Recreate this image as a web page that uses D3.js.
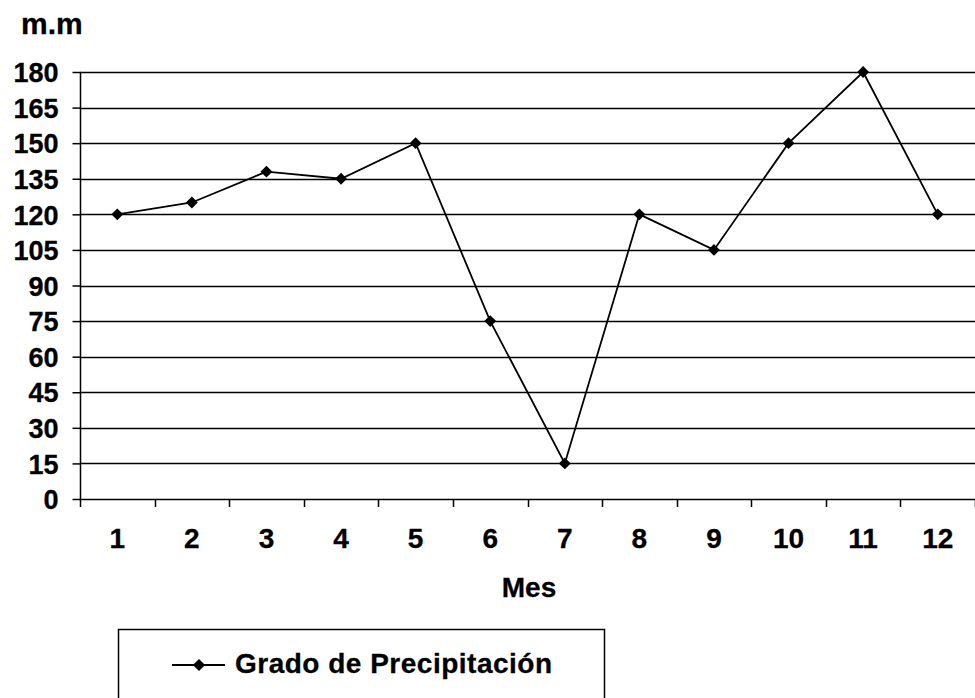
<!DOCTYPE html>
<html>
<head>
<meta charset="utf-8">
<script src="https://cdn.jsdelivr.net/npm/d3@7"></script>
<style>
  body { margin: 0; background: #fff; }
  text { font-family: "Liberation Sans", Arial, sans-serif; font-weight: bold; fill: #000; }
</style>
</head>
<body>
<div id="chart"></div>
<script>
var months = ["1","2","3","4","5","6","7","8","9","10","11","12"];
var rain = [120, 125, 138, 135, 150, 75, 15, 120, 105, 150, 180, 120];
var yTicks = [0,15,30,45,60,75,90,105,120,135,150,165,180];

var width = 975, height = 698;
var mLeft = 80, mRight = 975, mTop = 72, mBottom = 499;

var svg = d3.select("#chart").append("svg")
    .attr("width", width)
    .attr("height", height);

var x = d3.scaleBand().domain(months).range([mLeft, mRight]);
var y = d3.scaleLinear().domain([0, 180]).range([mBottom, mTop]);

// gridlines
svg.append("g").selectAll("line")
    .data(yTicks.filter(function(d){ return d > 0; }))
    .enter().append("line")
    .attr("x1", mLeft).attr("x2", mRight)
    .attr("y1", function(d){ return Math.round(y(d)) + 0.5; })
    .attr("y2", function(d){ return Math.round(y(d)) + 0.5; })
    .style("stroke", "#000").style("stroke-width", 1.5);

// y axis
var yAxis = svg.append("g")
    .attr("transform", "translate(" + (mLeft + 0.5) + ",0)")
    .call(d3.axisLeft(y).tickValues(yTicks).tickSize(8).tickPadding(14));
yAxis.select(".domain").style("stroke-width", 1.5).attr("d", "M0," + mTop + "V" + mBottom);
yAxis.selectAll(".tick line").style("stroke-width", 1.5);
yAxis.selectAll("text")
    .style("font-size", "27px").style("font-family", "Liberation Sans, Arial, sans-serif")
    .style("stroke", "#000").style("stroke-width", 0.3)
    .attr("x", -22).attr("dy", "0.36em");

// x axis
var xAxis = svg.append("g")
    .attr("transform", "translate(0," + (mBottom + 0.5) + ")")
    .call(d3.axisBottom(x).tickSize(0).tickPadding(29));
xAxis.select(".domain").remove();
xAxis.selectAll("text")
    .style("font-size", "28px").style("font-family", "Liberation Sans, Arial, sans-serif")
    .style("stroke", "#000").style("stroke-width", 0.3);
svg.append("line")
    .attr("x1", mLeft).attr("x2", mRight)
    .attr("y1", mBottom + 0.5).attr("y2", mBottom + 0.5)
    .style("stroke", "#000").style("stroke-width", 1.5);
svg.append("g").selectAll("line")
    .data(months.concat(["end"]))
    .enter().append("line")
    .attr("x1", function(d, i){ return Math.round(mLeft + i * x.bandwidth()) + 0.5; })
    .attr("x2", function(d, i){ return Math.round(mLeft + i * x.bandwidth()) + 0.5; })
    .attr("y1", mBottom).attr("y2", mBottom + 8)
    .style("stroke", "#000").style("stroke-width", 1.5);

// line
var line = d3.line()
    .x(function(d, i){ return x(months[i]) + x.bandwidth() / 2; })
    .y(function(d){ return y(d); });
svg.append("path")
    .datum(rain)
    .attr("d", line)
    .attr("fill", "none")
    .style("stroke", "#000").style("stroke-width", 1.8);

var diamond = d3.symbol().type(d3.symbolDiamond2).size(90);
svg.append("g").selectAll("path")
    .data(rain)
    .enter().append("path")
    .attr("d", diamond)
    .attr("transform", function(d, i){ return "translate(" + (x(months[i]) + x.bandwidth() / 2) + "," + y(d) + ")"; })
    .attr("fill", "#000");

// titles
svg.append("text").attr("x", 21).attr("y", 34).text("m.m")
    .style("font-size", "30px").style("stroke", "#000").style("stroke-width", 0.3);
svg.append("text").attr("x", 529).attr("y", 597).attr("text-anchor", "middle").text("Mes")
    .style("font-size", "28px").style("stroke", "#000").style("stroke-width", 0.3);

// legend
svg.append("rect")
    .attr("x", 118.5).attr("y", 629.5)
    .attr("width", 486).attr("height", 80)
    .attr("fill", "#fff")
    .style("stroke", "#000").style("stroke-width", 1.5);
svg.append("line")
    .attr("x1", 172).attr("x2", 225).attr("y1", 665).attr("y2", 665)
    .style("stroke", "#000").style("stroke-width", 1.8);
svg.append("path")
    .attr("d", d3.symbol().type(d3.symbolDiamond2).size(95))
    .attr("transform", "translate(199,665)")
    .attr("fill", "#000");
svg.append("text").attr("x", 235).attr("y", 673).text("Grado de Precipitación")
    .style("font-size", "28px").style("letter-spacing", "0.5px")
    .style("stroke", "#000").style("stroke-width", 0.3);
</script>
</body>
</html>
